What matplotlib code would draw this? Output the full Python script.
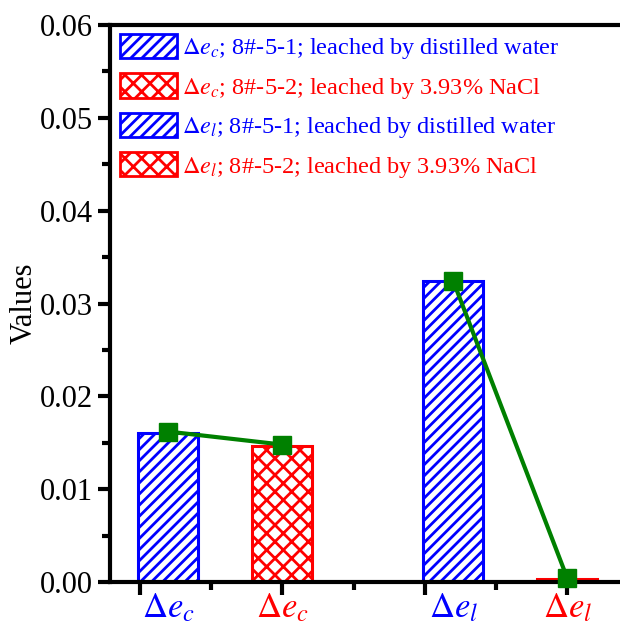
import matplotlib
matplotlib.use('Agg')
import matplotlib.pyplot as plt
from matplotlib.patches import Patch
from matplotlib.ticker import MultipleLocator, FormatStrFormatter

plt.rcParams['font.family'] = ['Liberation Serif', 'DejaVu Serif']
plt.rcParams['mathtext.fontset'] = 'stix'
plt.rcParams['hatch.linewidth'] = 2.0

# data
bar_x = [1.2, 2.0, 3.2, 4.0]
bar_values = [0.0161, 0.0147, 0.0324, 0.0003]
bar_colors = ['blue', 'red', 'blue', 'red']
bar_hatches = ['///', 'xx', '///', 'xx']
line_values = [0.0162, 0.0148, 0.0324, 0.0004]
tick_labels = [r'$\Delta e_c$', r'$\Delta e_c$', r'$\Delta e_l$', r'$\Delta e_l$']
legend_labels = [r'$\Delta e_c$; 8#-5-1; leached by distilled water',
                 r'$\Delta e_c$; 8#-5-2; leached by 3.93% NaCl',
                 r'$\Delta e_l$; 8#-5-1; leached by distilled water',
                 r'$\Delta e_l$; 8#-5-2; leached by 3.93% NaCl']
legend_colors = ['blue', 'red', 'blue', 'red']
legend_hatches = ['///', 'xx', '///', 'xx']

fig = plt.figure(figsize=(6.2, 6.35), dpi=100)
ax = fig.add_axes([0.1774, 0.0835, 0.8226, 0.877])

for x, v, c, h in zip(bar_x, bar_values, bar_colors, bar_hatches):
    ax.bar(x, v, width=0.42, facecolor='white', edgecolor=c, hatch=h,
           linewidth=2.2, zorder=2)

# two separate segments: Δe_c pair and Δe_l pair
for i in (0, 2):
    ax.plot(bar_x[i:i + 2], line_values[i:i + 2], color='#008000',
            linewidth=3, marker='s', markersize=13, zorder=3, clip_on=False)

ax.set_xlim(0.79, 4.37)
ax.set_ylim(0, 0.06)

ax.yaxis.set_major_locator(MultipleLocator(0.01))
ax.yaxis.set_minor_locator(MultipleLocator(0.005))
ax.yaxis.set_major_formatter(FormatStrFormatter('%.2f'))
ax.set_xticks([1, 2, 3, 4])
ax.set_xticklabels([])
ax.set_xticks([1.5, 2.5, 3.5], minor=True)

for x, lab, c in zip(bar_x, tick_labels, bar_colors):
    ax.text(x, -0.0011, lab, color=c, fontsize=25, ha='center', va='top')

ax.tick_params(which='major', direction='out', length=9, width=3, labelsize=22)
ax.tick_params(which='minor', direction='out', length=6, width=3)

for s in ['left', 'bottom', 'top']:
    ax.spines[s].set_linewidth(3)
ax.spines['right'].set_visible(False)

ax.set_ylabel('Values', fontsize=22, labelpad=0.5)

handles = [Patch(facecolor='white', edgecolor=c, hatch=h, linewidth=2)
           for c, h in zip(legend_colors, legend_hatches)]
leg = ax.legend(handles, legend_labels, loc='upper left', frameon=False,
                fontsize=17.5, handlelength=2.35, handleheight=1.15,
                handletextpad=0.2, labelspacing=0.5, borderpad=0,
                borderaxespad=0, bbox_to_anchor=(0.0196, 0.984))
for t, c in zip(leg.get_texts(), legend_colors):
    t.set_color(c)

fig.savefig('out.png', dpi=100)
